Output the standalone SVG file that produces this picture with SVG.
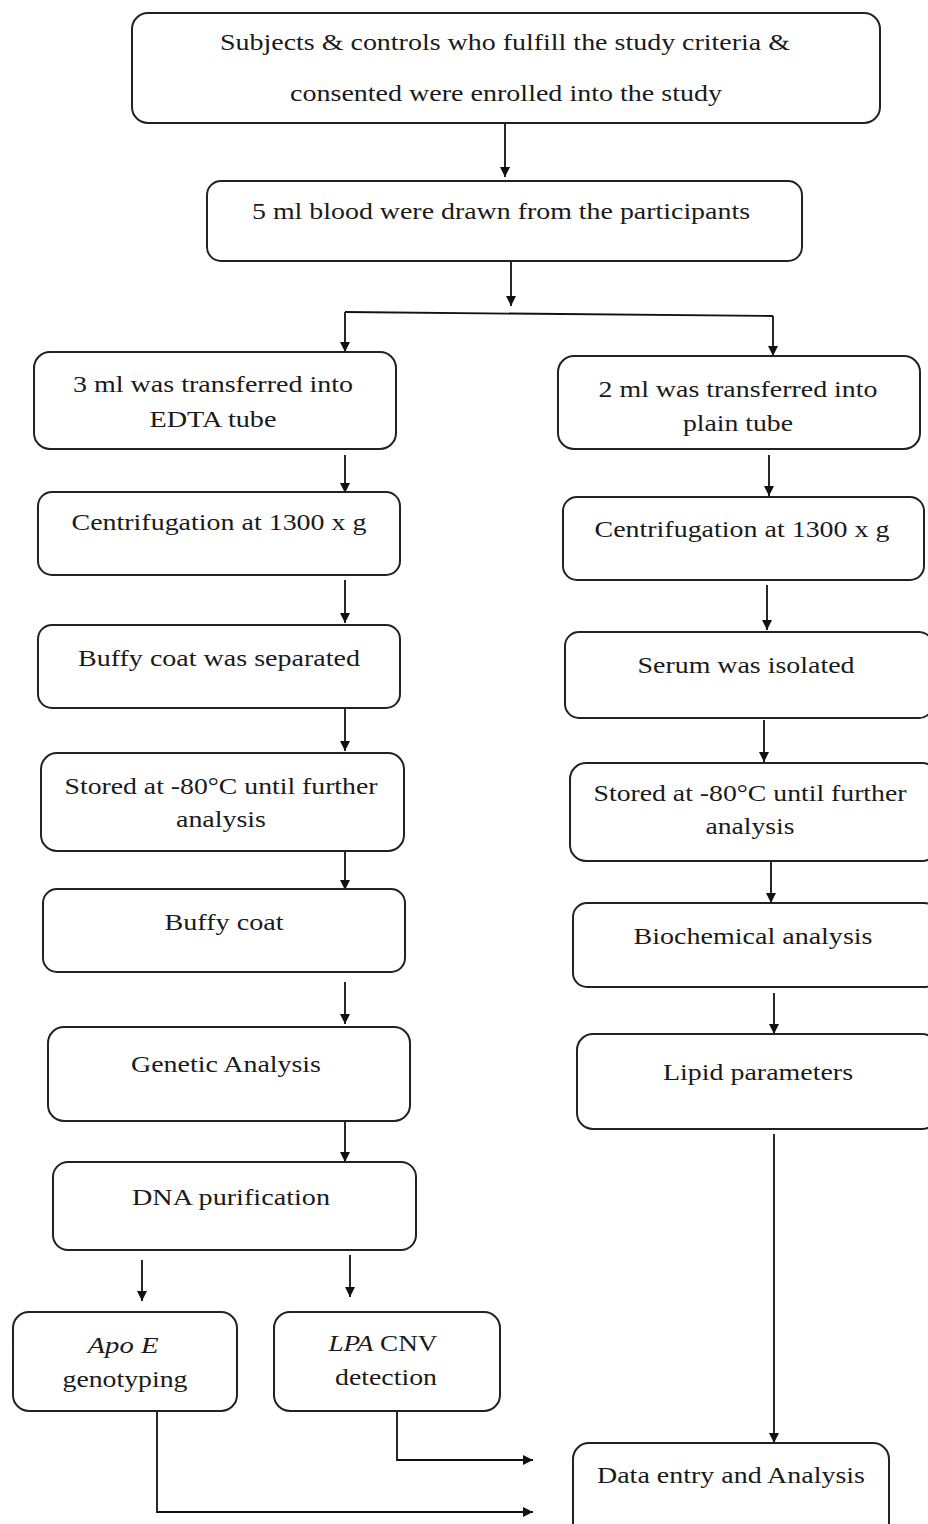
<svg xmlns="http://www.w3.org/2000/svg" width="928" height="1524" viewBox="0 0 928 1524">
<defs>
<style>
.box{fill:#fff;stroke:#222;stroke-width:2}
.t{font-family:"Liberation Serif","DejaVu Serif","Times New Roman",serif;font-size:24px;fill:#1a1a1a;text-anchor:middle}
.i{font-style:italic}
.c{fill:none;stroke:#111;stroke-width:1.8}
</style>
<marker id="ah" viewBox="0 0 10 10" refX="10" refY="5" markerWidth="10" markerHeight="10" markerUnits="userSpaceOnUse" orient="auto">
<path d="M0,0 L10,5 L0,10 z" fill="#111"/>
</marker>
</defs>
<rect width="928" height="1524" fill="#fff"/>

<g id="connectors">
<path class="c" d="M505,124 V177" marker-end="url(#ah)"/>
<path class="c" d="M511,257 V306" marker-end="url(#ah)"/>
<path class="c" d="M773,316 L345,312"/>
<path class="c" d="M345,312 V352" marker-end="url(#ah)"/>
<path class="c" d="M773,316 V356" marker-end="url(#ah)"/>
<path class="c" d="M345,455 V493" marker-end="url(#ah)"/>
<path class="c" d="M345,580 V623" marker-end="url(#ah)"/>
<path class="c" d="M345,709 V751" marker-end="url(#ah)"/>
<path class="c" d="M345,852 V890" marker-end="url(#ah)"/>
<path class="c" d="M345,982 V1024" marker-end="url(#ah)"/>
<path class="c" d="M345,1122 V1162" marker-end="url(#ah)"/>
<path class="c" d="M142,1260 V1301" marker-end="url(#ah)"/>
<path class="c" d="M350,1255 V1297" marker-end="url(#ah)"/>
<path class="c" d="M397,1411 V1460 H533" marker-end="url(#ah)"/>
<path class="c" d="M157,1411 V1512 H533" marker-end="url(#ah)"/>
<path class="c" d="M769,455 V496" marker-end="url(#ah)"/>
<path class="c" d="M767,585 V630" marker-end="url(#ah)"/>
<path class="c" d="M764,720 V762" marker-end="url(#ah)"/>
<path class="c" d="M771,862 V903" marker-end="url(#ah)"/>
<path class="c" d="M774,993 V1034" marker-end="url(#ah)"/>
<path class="c" d="M774,1134 V1443" marker-end="url(#ah)"/>
</g>

<g id="n-top">
<rect class="box" x="132" y="13" width="748" height="110" rx="16"/>
<text class="t" x="505" y="50" textLength="570" lengthAdjust="spacingAndGlyphs">Subjects &amp; controls who fulfill the study criteria &amp;</text>
<text class="t" x="506" y="101" textLength="432" lengthAdjust="spacingAndGlyphs">consented were enrolled into the study</text>
</g>
<g id="n-blood">
<rect class="box" x="207" y="181" width="595" height="80" rx="14"/>
<text class="t" x="501" y="219" textLength="498" lengthAdjust="spacingAndGlyphs">5 ml blood were drawn from the participants</text>
</g>

<g id="n-edta">
<rect class="box" x="34" y="352" width="362" height="97" rx="16"/>
<text class="t" x="213" y="392" textLength="280" lengthAdjust="spacingAndGlyphs">3 ml was transferred into</text>
<text class="t" x="213" y="427" textLength="127" lengthAdjust="spacingAndGlyphs">EDTA tube</text>
</g>
<g id="n-cent-l">
<rect class="box" x="38" y="492" width="362" height="83" rx="14"/>
<text class="t" x="219" y="530" textLength="295" lengthAdjust="spacingAndGlyphs">Centrifugation at 1300 x g</text>
</g>
<g id="n-buffy-sep">
<rect class="box" x="38" y="625" width="362" height="83" rx="14"/>
<text class="t" x="219" y="666" textLength="282" lengthAdjust="spacingAndGlyphs">Buffy coat was separated</text>
</g>
<g id="n-store-l">
<rect class="box" x="41" y="753" width="363" height="98" rx="16"/>
<text class="t" x="221" y="794" textLength="313" lengthAdjust="spacingAndGlyphs">Stored at -80°C until further</text>
<text class="t" x="221" y="827" textLength="90" lengthAdjust="spacingAndGlyphs">analysis</text>
</g>
<g id="n-buffy">
<rect class="box" x="43" y="889" width="362" height="83" rx="14"/>
<text class="t" x="224" y="930" textLength="119" lengthAdjust="spacingAndGlyphs">Buffy coat</text>
</g>
<g id="n-genetic">
<rect class="box" x="48" y="1027" width="362" height="94" rx="16"/>
<text class="t" x="226" y="1072" textLength="190" lengthAdjust="spacingAndGlyphs">Genetic Analysis</text>
</g>
<g id="n-dna">
<rect class="box" x="53" y="1162" width="363" height="88" rx="15"/>
<text class="t" x="231" y="1205" textLength="198" lengthAdjust="spacingAndGlyphs">DNA purification</text>
</g>
<g id="n-apoe">
<rect class="box" x="13" y="1312" width="224" height="99" rx="16"/>
<text class="t i" x="123" y="1353" textLength="71" lengthAdjust="spacingAndGlyphs">Apo E</text>
<text class="t" x="125" y="1387" textLength="125" lengthAdjust="spacingAndGlyphs">genotyping</text>
</g>
<g id="n-lpa">
<rect class="box" x="274" y="1312" width="226" height="99" rx="16"/>
<text class="t" x="383" y="1351" textLength="109" lengthAdjust="spacingAndGlyphs"><tspan class="i">LPA</tspan> CNV</text>
<text class="t" x="386" y="1385" textLength="102" lengthAdjust="spacingAndGlyphs">detection</text>
</g>

<g id="n-plain">
<rect class="box" x="558" y="356" width="362" height="93" rx="16"/>
<text class="t" x="738" y="397" textLength="279" lengthAdjust="spacingAndGlyphs">2 ml was transferred into</text>
<text class="t" x="738" y="431" textLength="110" lengthAdjust="spacingAndGlyphs">plain tube</text>
</g>
<g id="n-cent-r">
<rect class="box" x="563" y="497" width="361" height="83" rx="14"/>
<text class="t" x="742" y="537" textLength="295" lengthAdjust="spacingAndGlyphs">Centrifugation at 1300 x g</text>
</g>
<g id="n-serum">
<rect class="box" x="565" y="632" width="368" height="86" rx="14"/>
<text class="t" x="746" y="673" textLength="217" lengthAdjust="spacingAndGlyphs">Serum was isolated</text>
</g>
<g id="n-store-r">
<rect class="box" x="570" y="763" width="368" height="98" rx="16"/>
<text class="t" x="750" y="801" textLength="313" lengthAdjust="spacingAndGlyphs">Stored at -80°C until further</text>
<text class="t" x="750" y="834" textLength="89" lengthAdjust="spacingAndGlyphs">analysis</text>
</g>
<g id="n-biochem">
<rect class="box" x="573" y="903" width="365" height="84" rx="14"/>
<text class="t" x="753" y="944" textLength="239" lengthAdjust="spacingAndGlyphs">Biochemical analysis</text>
</g>
<g id="n-lipid">
<rect class="box" x="577" y="1034" width="361" height="95" rx="16"/>
<text class="t" x="758" y="1080" textLength="190" lengthAdjust="spacingAndGlyphs">Lipid parameters</text>
</g>
<g id="n-data">
<rect class="box" x="573" y="1443" width="316" height="100" rx="16"/>
<text class="t" x="731" y="1483" textLength="268" lengthAdjust="spacingAndGlyphs">Data entry and Analysis</text>
</g>
</svg>
